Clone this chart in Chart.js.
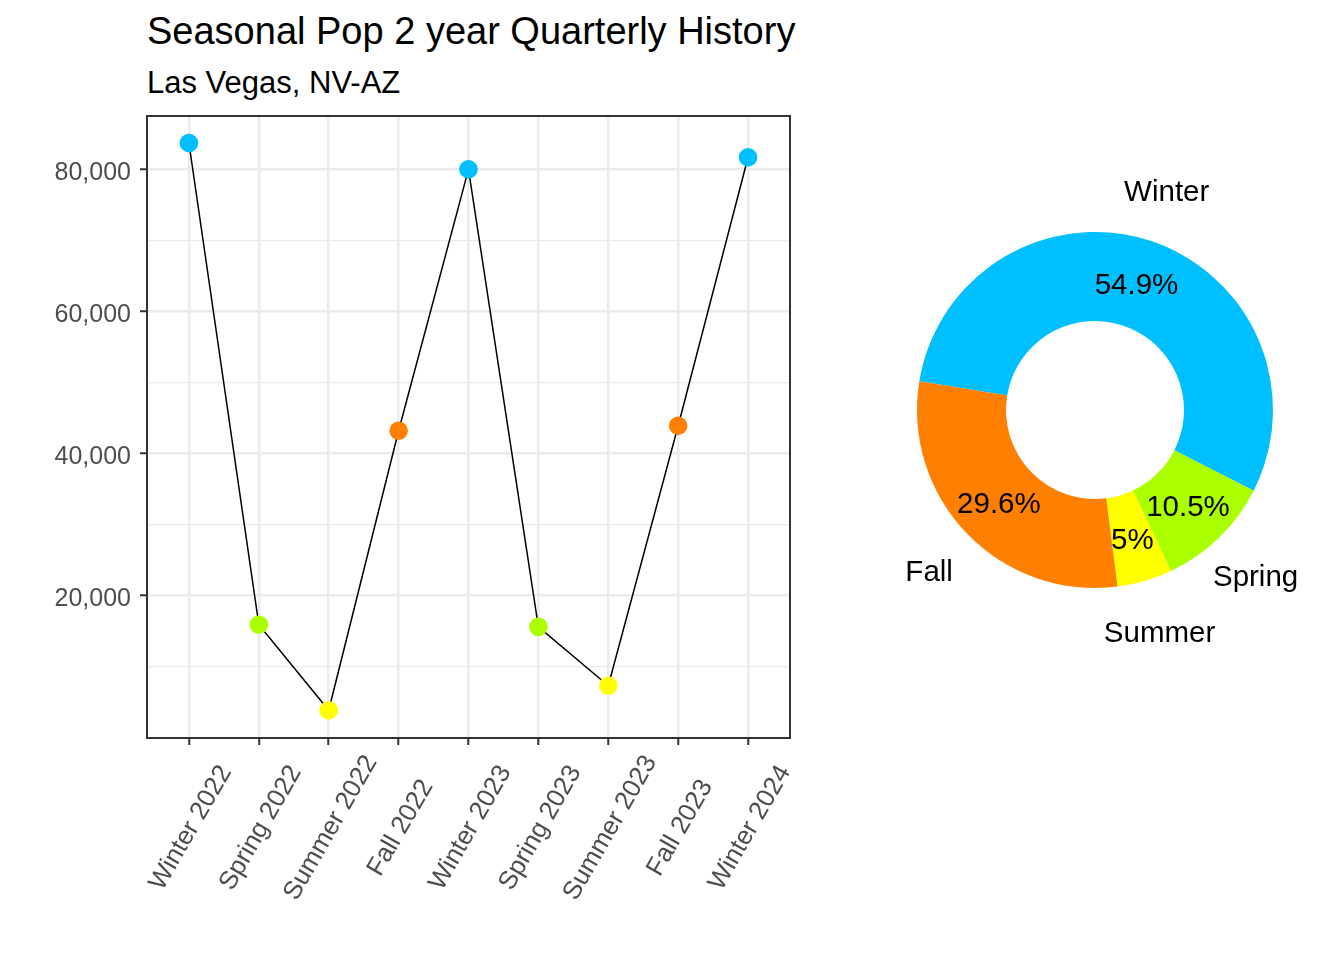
<!DOCTYPE html>
<html><head><meta charset="utf-8">
<script src="https://cdn.jsdelivr.net/npm/chart.js@4.4.1/dist/chart.umd.min.js"></script>
<style>
html,body{margin:0;padding:0;background:#fff;width:1344px;height:960px;overflow:hidden;font-family:'Liberation Sans',Arial,sans-serif}
#title{position:absolute;left:147px;top:12px;font-size:38px;line-height:38px;color:#000;white-space:nowrap}
#subtitle{position:absolute;left:147px;top:67px;font-size:31px;line-height:31px;color:#000;white-space:nowrap}
#lineWrap{position:absolute;left:0;top:0;width:860px;height:960px}
#pieWrap{position:absolute;left:860px;top:0;width:484px;height:960px}
canvas{display:block}
</style></head><body>
<div id="title">Seasonal Pop 2 year Quarterly History</div>
<div id="subtitle">Las Vegas, NV-AZ</div>
<div id="lineWrap"><canvas id="lineChart" width="860" height="960"></canvas></div>
<div id="pieWrap"><canvas id="pieChart" width="484" height="960"></canvas></div>
<script>
const quarters = ['Winter 2022','Spring 2022','Summer 2022','Fall 2022','Winter 2023','Spring 2023','Summer 2023','Fall 2023','Winter 2024'];
const population = [83700, 15900, 3850, 43200, 80000, 15600, 7300, 43900, 81700];
const yMajorTicks = [20000, 40000, 60000, 80000];
const yMinorTicks = [10000, 30000, 50000, 70000];
const seasons = ['Winter','Spring','Summer','Fall'];
const seasonShares = [54.9, 10.5, 5, 29.6];
const seasonColors = ['#00BFFF','#AAFF00','#FFFF00','#FF8000'];

const FONT = "'Liberation Sans', Arial, sans-serif";
const colorOf = q => seasonColors[seasons.indexOf(q.split(' ')[0])];
const allY = yMinorTicks.concat(yMajorTicks).sort((a,b)=>a-b);

const panelBorder = {
  id:'panelBorder',
  afterDraw(chart){
    const {ctx, chartArea:a} = chart;
    ctx.save();
    ctx.strokeStyle='#333333'; ctx.lineWidth=2;
    ctx.strokeRect(a.left, a.top, a.right-a.left, a.bottom-a.top);
    ctx.restore();
  }
};
const axisLabels = {
  id:'axisLabels',
  afterDraw(chart){
    const sx = chart.scales.x, sy = chart.scales.y, ctx = chart.ctx;
    ctx.save();
    ctx.fillStyle = '#4D4D4D';
    // y labels
    ctx.font = '25px ' + FONT;
    ctx.textAlign = 'right';
    ctx.textBaseline = 'alphabetic';
    yMajorTicks.forEach(v=>{
      const py = sy.getPixelForValue(v);
      ctx.fillText(v.toLocaleString('en-US'), chart.chartArea.left - 16, py + 1.5 + 25*0.358);
    });
    // x labels
    ctx.font = '25.8px ' + FONT;
    ctx.textAlign = 'center';
    ctx.textBaseline = 'middle';
    quarters.forEach((q,i)=>{
      const px = sx.getPixelForValue(i);
      ctx.save();
      ctx.translate(px + 2, chart.chartArea.bottom + 90);
      ctx.rotate(-Math.PI/3);
      ctx.fillText(q, 0, 0);
      ctx.restore();
    });
    ctx.restore();
  }
};

new Chart(document.getElementById('lineChart'), {
  type:'line',
  data:{datasets:[{
    data: population.map((v,i)=>({x:i, y:v})),
    borderColor:'#000000', borderWidth:1.5,
    pointRadius:9.3, pointHoverRadius:9.3, pointBorderWidth:0,
    pointBackgroundColor: quarters.map(colorOf),
    tension:0, clip:false, fill:false
  }]},
  options:{
    responsive:false, animation:false, devicePixelRatio:1, events:[],
    layout:{padding:{left:0, right:70, top:116, bottom:0}},
    plugins:{legend:{display:false}, tooltip:{enabled:false}, title:{display:false}},
    scales:{
      x:{
        type:'linear', min:-0.6, max:quarters.length-1+0.6,
        afterBuildTicks: s => { s.ticks = quarters.map((q,i)=>({value:i})); },
        afterFit: s => { s.height = 222; },
        ticks:{display:false},
        grid:{color:'#EBEBEB', lineWidth:2.5, tickLength:7, tickColor:'#333333', tickWidth:2},
        border:{display:false}
      },
      y:{
        min:-50, max:87500,
        afterBuildTicks: s => { s.ticks = allY.map(v=>({value:v})); },
        afterFit: s => { s.width = 147; },
        ticks:{display:false},
        grid:{
          color:'#EBEBEB',
          lineWidth: c => yMajorTicks.includes(c.tick && c.tick.value) ? 2.5 : 1.2,
          tickLength:7,
          tickColor: c => yMajorTicks.includes(c.tick && c.tick.value) ? '#333333' : 'rgba(0,0,0,0)',
          tickWidth:2
        },
        border:{display:false}
      }
    }
  },
  plugins:[panelBorder, axisLabels]
});

const pieLabels = {
  id:'pieLabels',
  afterDatasetsDraw(chart){
    const ctx = chart.ctx, meta = chart.getDatasetMeta(0);
    const size = 29.5;
    ctx.save();
    ctx.font = size + 'px ' + FONT;
    ctx.fillStyle = '#000000';
    ctx.textAlign = 'center';
    ctx.textBaseline = 'alphabetic';
    const cap = size*0.716/2;
    meta.data.forEach((arc,i)=>{
      const p = arc.getProps(['x','y','startAngle','endAngle','innerRadius','outerRadius'], true);
      const mid = (p.startAngle + p.endAngle)/2;
      const rMid = (p.innerRadius + p.outerRadius)/2;
      const rOut = p.outerRadius*1.295;
      ctx.fillText(seasonShares[i] + '%', p.x + Math.cos(mid)*rMid, p.y + Math.sin(mid)*rMid + cap);
      ctx.fillText(seasons[i], p.x + Math.cos(mid)*rOut, p.y + Math.sin(mid)*rOut + cap);
    });
    ctx.restore();
  }
};

new Chart(document.getElementById('pieChart'), {
  type:'doughnut',
  data:{labels:seasons, datasets:[{data:seasonShares, backgroundColor:seasonColors, borderWidth:0, hoverOffset:0}]},
  options:{
    responsive:false, animation:false, devicePixelRatio:1, events:[],
    rotation:-80.7, cutout:'50%',
    layout:{padding:{left:57, right:71, top:232, bottom:372}},
    plugins:{legend:{display:false}, tooltip:{enabled:false}}
  },
  plugins:[pieLabels]
});
</script>
</body></html>
